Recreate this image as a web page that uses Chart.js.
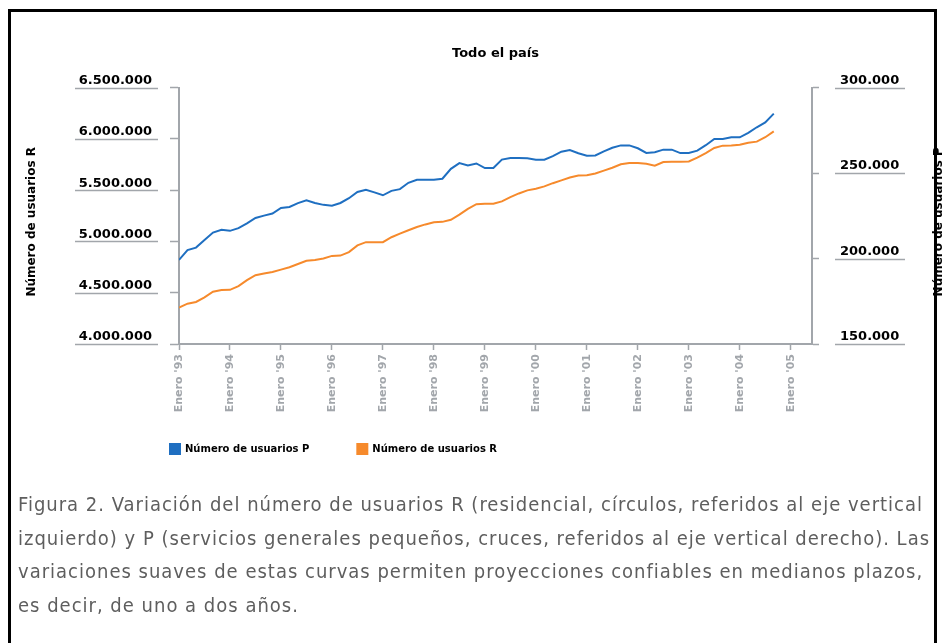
<!DOCTYPE html>
<html>
<head>
<meta charset="utf-8">
<script src="https://cdn.jsdelivr.net/npm/chart.js@4"></script>
<style>
  html, body { margin: 0; padding: 0; background: #fff; }
  body { width: 946px; height: 643px; position: relative; overflow: hidden; }
  #marco { position: absolute; left: 8px; top: 9px; width: 929px; height: 700px;
           border: 3px solid #000; box-sizing: border-box; }
  #grafico { position: absolute; left: 0; top: 0; }
  #pie { position: absolute; left: 18px; top: 488px; color: #5e5e5e;
         font-family: "DejaVu Sans Condensed", "DejaVu Sans", sans-serif; font-stretch: condensed;
         letter-spacing: 1px; font-size: 20px; line-height: 33.5px; white-space: nowrap; }
</style>
</head>
<body>
<div id="marco"></div>
<canvas id="grafico" width="946" height="508"></canvas>
<div id="pie">
  <div>Figura 2. Variación del número de usuarios R (residencial, círculos, referidos al eje vertical</div>
  <div>izquierdo) y P (servicios generales pequeños, cruces, referidos al eje vertical derecho). Las</div>
  <div>variaciones suaves de estas curvas permiten proyecciones confiables en medianos plazos,</div>
  <div>es decir, de uno a dos años.</div>
</div>
<script>
// meses desde enero '93 (cada dos meses)
const meses = [0, 2, 4, 6, 8, 10, 12, 14, 16, 18, 20, 22, 24, 26, 28, 30, 32, 34, 36, 38,
  40, 42, 44, 46, 48, 50, 52, 54, 56, 58, 60, 62, 64, 66, 68, 70, 72, 74, 76, 78,
  80, 82, 84, 86, 88, 90, 92, 94, 96, 98, 100, 102, 104, 106, 108, 110, 112, 114, 116, 118,
  120, 122, 124, 126, 128, 130, 132, 134, 136, 138, 140]

const etiquetasAnios = ["Enero '93", "Enero '94", "Enero '95", "Enero '96", "Enero '97", "Enero '98",
  "Enero '99", "Enero '00", "Enero '01", "Enero '02", "Enero '03", "Enero '04", "Enero '05"]

// residenciales (eje izquierdo)
const usuariosR = [4356000, 4393000, 4410000, 4454000, 4510000, 4527000, 4528000, 4565000, 4622000, 4671000,
  4687000, 4702000, 4725000, 4748000, 4780000, 4811000, 4818000, 4833000, 4859000, 4862000,
  4896000, 4961000, 4993000, 4993000, 4993000, 5041000, 5076000, 5109000, 5141000, 5166000,
  5186000, 5191000, 5211000, 5261000, 5318000, 5363000, 5367000, 5367000, 5391000, 5432000,
  5468000, 5498000, 5514000, 5537000, 5568000, 5595000, 5623000, 5642000, 5645000, 5662000,
  5690000, 5719000, 5753000, 5765000, 5765000, 5758000, 5738000, 5774000, 5776000, 5778000,
  5780000, 5817000, 5861000, 5911000, 5934000, 5935000, 5942000, 5962000, 5973000, 6016000,
  6073000]

// servicios generales pequeños (eje derecho)
const usuariosP = [199200, 204900, 206400, 210800, 215200, 216800, 216200, 217800, 220600, 223700,
  225100, 226300, 229600, 230200, 232400, 234100, 232500, 231400, 230900, 232500,
  235300, 238900, 240200, 238700, 237000, 239600, 240600, 244300, 246100, 246100,
  246100, 246700, 252500, 255800, 254500, 255600, 252900, 253000, 257900, 258800,
  258800, 258600, 257800, 257800, 259900, 262500, 263500, 261600, 260200, 260300,
  262700, 264800, 266200, 266200, 264500, 261800, 262200, 263700, 263700, 261700,
  261700, 263100, 266300, 269900, 269900, 270900, 270900, 273500, 276800, 279600,
  284800]

const tituloR = 'Número de usuarios R'
const tituloP = 'Número de usuarios P'

const azul = '#1f6fc1'
const naranja = '#f68a2c'
const gris = '#a2a6ab'

const puntos = (serie) => meses.map((m, i) => ({ x: m, y: serie[i] }))
const miles = (v) => String(v).replace(/\B(?=(\d{3})+(?!\d))/g, '.')

// leyenda bajo el eje, alineada con el borde izquierdo del grafico
const moverLeyenda = {
  id: 'moverLeyenda',
  afterLayout(chart) {
    const lg = chart.legend
    const h = lg.bottom - lg.top
    lg.left = 122
    lg.top = 396
    lg.bottom = lg.top + h
  }
}

// subrayado de las etiquetas y titulos de los ejes verticales
const adornos = {
  id: 'adornos',
  afterDraw(chart) {
    const ctx = chart.ctx
    const { y, y1 } = chart.scales
    ctx.save()
    ctx.strokeStyle = gris
    ctx.lineWidth = 1.5
    y.ticks.forEach((t, i) => {
      const py = Math.round(y.getPixelForTick(i)) + 0.5
      ctx.beginPath(); ctx.moveTo(y.right - 104, py); ctx.lineTo(y.right - 21, py); ctx.stroke()
    })
    y1.ticks.forEach((t, i) => {
      const py = Math.round(y1.getPixelForTick(i)) + 0.5
      ctx.beginPath(); ctx.moveTo(y1.left + 23, py); ctx.lineTo(y1.left + 93, py); ctx.stroke()
    })
    ctx.fillStyle = '#000'
    ctx.font = 'bold 12px "DejaVu Sans"'
    ctx.textAlign = 'center'
    ctx.textBaseline = 'middle'
    const cy = (chart.chartArea.top + chart.chartArea.bottom) / 2 + 6
    ;[[32, tituloR], [939, tituloP]].forEach(([x, txt]) => {
      ctx.save()
      ctx.translate(x, cy)
      ctx.rotate(-Math.PI / 2)
      ctx.fillText(txt, 0, 0)
      ctx.restore()
    })
    ctx.restore()
  }
}

new Chart(document.getElementById('grafico'), {
  type: 'line',
  data: {
    datasets: [
      {
        label: tituloP,
        data: puntos(usuariosP),
        yAxisID: 'y1',
        borderColor: azul,
        backgroundColor: azul,
        borderWidth: 2,
        pointRadius: 0
      },
      {
        label: tituloR,
        data: puntos(usuariosR),
        yAxisID: 'y',
        borderColor: naranja,
        backgroundColor: naranja,
        borderWidth: 2,
        pointRadius: 0
      }
    ]
  },
  options: {
    responsive: false,
    animation: false,
    devicePixelRatio: 1,
    layout: { padding: { left: 60, right: 30, top: 40, bottom: 6 } },
    plugins: {
      title: {
        display: true,
        text: 'Todo el país',
        fullSize: false,
        color: '#000',
        font: { family: 'DejaVu Sans', size: 13, weight: 'bold' },
        padding: { top: 6, bottom: 26 }
      },
      legend: {
        position: 'bottom',
        align: 'start',
        labels: {
          boxWidth: 10,
          boxHeight: 10,
          padding: 48,
          color: '#000',
          font: { family: 'DejaVu Sans', size: 10, weight: 'bold' }
        }
      },
      tooltip: { enabled: false }
    },
    scales: {
      x: {
        type: 'linear',
        min: 0,
        max: 149,
        afterFit: (s) => { s.height = 90 },
        border: { color: gris, width: 2 },
        grid: { drawOnChartArea: false, tickLength: 6, tickColor: gris, tickWidth: 1.5 },
        ticks: {
          stepSize: 12,
          includeBounds: false,
          autoSkip: false,
          minRotation: 90,
          maxRotation: 90,
          padding: 4,
          color: gris,
          font: { family: 'DejaVu Sans', size: 11, weight: 'bold' },
          callback: (v) => etiquetasAnios[v / 12] ?? ''
        }
      },
      y: {
        position: 'left',
        min: 4000000,
        max: 6500000,
        afterFit: (s) => { s.width = 119 },
        border: { color: gris, width: 2 },
        grid: { drawOnChartArea: false, tickLength: 9, tickColor: gris, tickWidth: 1.5 },
        ticks: {
          stepSize: 500000,
          padding: 18,
          labelOffset: -7,
          color: '#000',
          font: { family: 'DejaVu Sans', size: 13, weight: 'bold' },
          callback: (v) => miles(v)
        }
      },
      y1: {
        position: 'right',
        min: 150000,
        max: 300000,
        afterFit: (s) => { s.width = 104 },
        border: { color: gris, width: 2 },
        grid: { drawOnChartArea: false, tickLength: 7, tickColor: gris, tickWidth: 1.5 },
        ticks: {
          stepSize: 50000,
          padding: 21,
          labelOffset: -7,
          color: '#000',
          font: { family: 'DejaVu Sans', size: 13, weight: 'bold' },
          callback: (v) => miles(v)
        }
      }
    }
  },
  plugins: [moverLeyenda, adornos]
})
</script>
</body>
</html>
